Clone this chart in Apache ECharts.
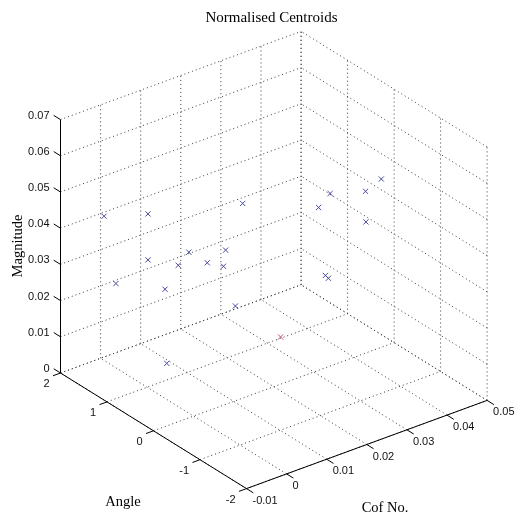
<!DOCTYPE html>
<html>
<head>
<meta charset="utf-8">
<title>Normalised Centroids</title>
<script src="https://cdn.jsdelivr.net/npm/echarts@6/dist/echarts.min.js"></script>
<style>
  html, body { margin: 0; padding: 0; background: #fff; }
  #chart { width: 517px; height: 519px; }
</style>
</head>
<body>
<div id="chart"></div>
<script>
// Axis ticks
const cofTicks = [-0.01, 0, 0.01, 0.02, 0.03, 0.04, 0.05];
const cofTickLabels = ['-0.01', '0', '0.01', '0.02', '0.03', '0.04', '0.05'];
const angleTicks = [-2, -1, 0, 1, 2];
const angleTickLabels = ['-2', '-1', '0', '1', '2'];
const magnitudeTicks = [0, 0.01, 0.02, 0.03, 0.04, 0.05, 0.06, 0.07];
const magnitudeTickLabels = ['0', '0.01', '0.02', '0.03', '0.04', '0.05', '0.06', '0.07'];

// Normalised centroids (Cof No., Angle, Magnitude)
const cofNo = [-0.0039, 0.0023, 0.0156, 0.0279, 0.0263, 0.0351, 0.0329, 0.0330, 0.0081, 0.0132,
               0.0023, 0.0066, 0.0106, 0.0129, -0.0022, 0.0047, 0.0146, 0.0273, 0.0277, 0.0049];
const angle = [1.59, 1.18, 0.29, -0.53, -0.42, -1.01, -0.86, -0.86, 0.80, 0.45,
               1.18, 0.90, 0.62, 0.47, 1.48, 1.02, 0.36, -0.48, -0.51, 1.00];
const magnitude = [0.0441, 0.0455, 0.0501, 0.0544, 0.0503, 0.0593, 0.0556, 0.0471, 0.0356, 0.0369,
                   0.0328, 0.0318, 0.0331, 0.0324, 0.0257, 0.0250, 0.0216, 0.0316, 0.0309, 0.0046];

// Highlighted centroid
const markedCofNo = [0.0210];
const markedAngle = [-0.06];
const markedMagnitude = [0.0138];

// ---- orthographic view of the axes box ----
const cofMin = cofTicks[0], cofMax = cofTicks[cofTicks.length - 1];
const angMin = angleTicks[0], angMax = angleTicks[angleTicks.length - 1];
const magMin = magnitudeTicks[0], magMax = magnitudeTicks[magnitudeTicks.length - 1];
const cofStep = 0.01, angStep = 1, magStep = 0.01;

// screen position of the (Cof min, Angle max, Magnitude min) corner,
// and the screen displacement of one tick step along each axis
const view = {
  ox: 60.5, oy: 373,
  cof: [40.1, -14.7],
  ang: [-46.5, -28.9],
  mag: [0, -36.2]
};

function project(x, y, z) {
  const a = (x - cofMin) / cofStep;
  const b = (y - angMax) / angStep;
  const c = (z - magMin) / magStep;
  return [
    view.ox + a * view.cof[0] + b * view.ang[0] + c * view.mag[0],
    view.oy + a * view.cof[1] + b * view.ang[1] + c * view.mag[1]
  ];
}
function seg(p, q) { return project(p[0], p[1], p[2]).concat(project(q[0], q[1], q[2])); }
function unit(v, s) { const n = Math.hypot(v[0], v[1]); return [v[0] / n * s, v[1] / n * s]; }

// dotted grid on the three back planes
const gridSegs = [];
cofTicks.forEach(x => gridSegs.push(seg([x, angMax, magMin], [x, angMax, magMax])));
magnitudeTicks.forEach(z => gridSegs.push(seg([cofMin, angMax, z], [cofMax, angMax, z])));
angleTicks.forEach(y => gridSegs.push(seg([cofMax, y, magMin], [cofMax, y, magMax])));
magnitudeTicks.forEach(z => gridSegs.push(seg([cofMax, angMin, z], [cofMax, angMax, z])));
cofTicks.forEach(x => gridSegs.push(seg([x, angMin, magMin], [x, angMax, magMin])));
angleTicks.forEach(y => gridSegs.push(seg([cofMin, y, magMin], [cofMax, y, magMin])));

// solid axis lines and tick marks
const tickLen = 8;
const magTickDir = unit(view.ang, tickLen);
const angTickDir = unit([-view.cof[0], -view.cof[1]], tickLen);
const cofTickDir = unit([-view.ang[0], -view.ang[1]], tickLen);
const axisSegs = [
  seg([cofMin, angMax, magMin], [cofMin, angMax, magMax]),
  seg([cofMin, angMin, magMin], [cofMin, angMax, magMin]),
  seg([cofMin, angMin, magMin], [cofMax, angMin, magMin])
];
function tickSeg(p, d) { return [p[0], p[1], p[0] + d[0], p[1] + d[1]]; }
magnitudeTicks.forEach(z => axisSegs.push(tickSeg(project(cofMin, angMax, z), magTickDir)));
angleTicks.forEach(y => axisSegs.push(tickSeg(project(cofMin, y, magMin), angTickDir)));
cofTicks.forEach(x => axisSegs.push(tickSeg(project(x, angMin, magMin), cofTickDir)));

// tick labels: [u, v, dx, dy], text and alignment kept alongside
const tickLabelData = [], tickLabelText = [], tickLabelAlign = [];
magnitudeTicks.forEach((z, i) => {
  tickLabelData.push(project(cofMin, angMax, z).concat([-11, -4]));
  tickLabelText.push(magnitudeTickLabels[i]); tickLabelAlign.push('right');
});
angleTicks.forEach((y, i) => {
  tickLabelData.push(project(cofMin, y, magMin).concat([-11, 11]));
  tickLabelText.push(angleTickLabels[i]); tickLabelAlign.push('right');
});
cofTicks.forEach((x, i) => {
  tickLabelData.push(project(x, angMin, magMin).concat([6, 12]));
  tickLabelText.push(cofTickLabels[i]); tickLabelAlign.push('left');
});

const centroidPts = cofNo.map((x, i) => project(x, angle[i], magnitude[i]));
const markedPts = markedCofNo.map((x, i) => project(x, markedAngle[i], markedMagnitude[i]));

function lineRenderer(style) {
  return function (params, api) {
    const p1 = api.coord([api.value(0), api.value(1)]);
    const p2 = api.coord([api.value(2), api.value(3)]);
    return {
      type: 'line',
      shape: { x1: p1[0], y1: p1[1], x2: p2[0], y2: p2[1] },
      style: style
    };
  };
}
function crossRenderer(color) {
  return function (params, api) {
    const p = api.coord([api.value(0), api.value(1)]);
    const r = 2.6;
    const st = { stroke: color, lineWidth: 1 };
    return {
      type: 'group',
      children: [
        { type: 'line', shape: { x1: p[0] - r, y1: p[1] - r, x2: p[0] + r, y2: p[1] + r }, style: st },
        { type: 'line', shape: { x1: p[0] - r, y1: p[1] + r, x2: p[0] + r, y2: p[1] - r }, style: st }
      ]
    };
  };
}

const serif = '"Liberation Serif", "Times New Roman", serif';
const sans = '"Liberation Sans", Arial, sans-serif';

const chart = echarts.init(document.getElementById('chart'), null, { renderer: 'canvas' });
chart.setOption({
  animation: false,
  backgroundColor: '#ffffff',
  grid: { left: 0, right: 0, top: 0, bottom: 0 },
  xAxis: { type: 'value', min: 0, max: 517, show: false },
  yAxis: { type: 'value', min: 0, max: 519, inverse: true, show: false },
  graphic: [
    { type: 'text', x: 271.5, y: 18, style: { text: 'Normalised Centroids', font: '15px ' + serif, fill: '#000', textAlign: 'center', textVerticalAlign: 'middle' } },
    { type: 'text', x: 18, y: 246, rotation: Math.PI / 2, style: { text: 'Magnitude', font: '14.5px ' + serif, fill: '#000', textAlign: 'center', textVerticalAlign: 'middle' } },
    { type: 'text', x: 123, y: 502, style: { text: 'Angle', font: '14.5px ' + serif, fill: '#000', textAlign: 'center', textVerticalAlign: 'middle' } },
    { type: 'text', x: 385, y: 508, style: { text: 'Cof No.', font: '14.5px ' + serif, fill: '#000', textAlign: 'center', textVerticalAlign: 'middle' } }
  ],
  series: [
    {
      name: 'grid', type: 'custom', silent: true, z: 1,
      renderItem: lineRenderer({ stroke: '#3a3a3a', lineWidth: 1, lineDash: [1, 3] }),
      data: gridSegs
    },
    {
      name: 'axes', type: 'custom', silent: true, z: 2,
      renderItem: lineRenderer({ stroke: '#000', lineWidth: 1 }),
      data: axisSegs
    },
    {
      name: 'tickLabels', type: 'custom', silent: true, z: 3,
      renderItem: function (params, api) {
        const p = api.coord([api.value(0), api.value(1)]);
        return {
          type: 'text',
          x: p[0] + api.value(2), y: p[1] + api.value(3),
          style: {
            text: tickLabelText[params.dataIndex],
            font: '11px ' + sans, fill: '#111',
            textAlign: tickLabelAlign[params.dataIndex], textVerticalAlign: 'middle'
          }
        };
      },
      data: tickLabelData
    },
    {
      name: 'Centroids', type: 'custom', z: 4,
      renderItem: crossRenderer('#4848a0'),
      data: centroidPts
    },
    {
      name: 'Marked', type: 'custom', z: 5,
      renderItem: crossRenderer('#c8506a'),
      data: markedPts
    }
  ]
});
</script>
</body>
</html>
